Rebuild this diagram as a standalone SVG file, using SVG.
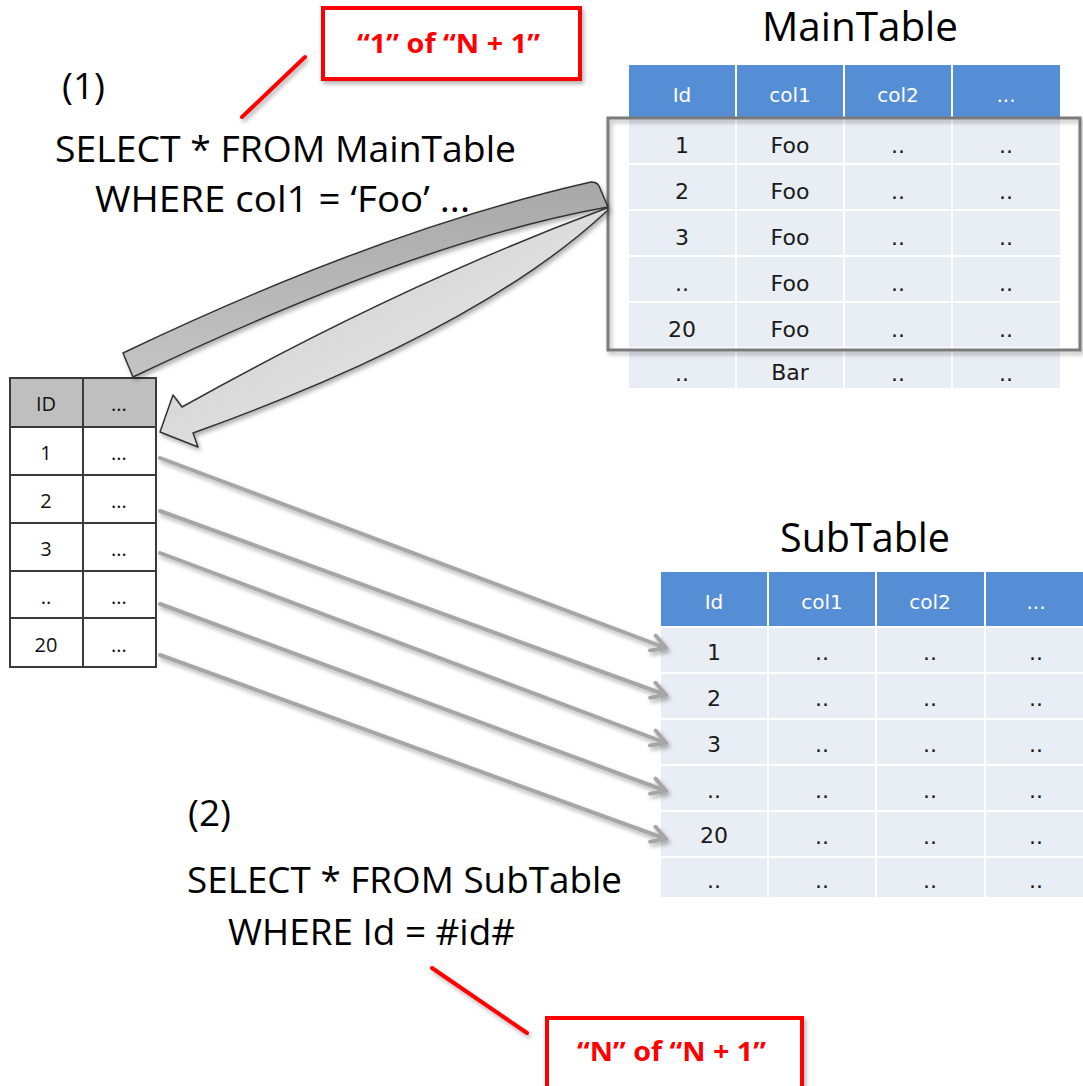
<svg xmlns="http://www.w3.org/2000/svg" width="1083" height="1086" viewBox="0 0 1083 1086">
<defs>
<style>
.big{font-family:"Open Sans","Liberation Sans",sans-serif;font-size:37px;fill:#000}
.title{font-family:"Open Sans","Liberation Sans",sans-serif;font-size:40px;fill:#000}
.call{font-family:"Open Sans","Liberation Sans",sans-serif;font-size:26px;font-weight:bold;fill:#ff0000}
.cbox{fill:#fff;stroke:#ff0000;stroke-width:4}
.cline{stroke:#ff0000;stroke-width:4;stroke-linecap:round}
.hd{fill:#558ed5}
.bd{fill:#e9edf4}
.ht{font-family:"DejaVu Sans","Liberation Sans",sans-serif;font-size:20px;fill:#fff;text-anchor:middle}
.bt{font-family:"DejaVu Sans","Liberation Sans",sans-serif;font-size:22px;fill:#1a1a1a;text-anchor:middle}
.lt{font-family:"Open Sans","Liberation Sans",sans-serif;font-size:20px;fill:#111;text-anchor:middle}
.lg{stroke:#3a3a3a;stroke-width:2;fill:none}
.arr{stroke:#a6a6a6;stroke-width:4;fill:none;stroke-linecap:round}
</style>
<filter id="sh" x="-10%" y="-10%" width="130%" height="140%">
<feDropShadow dx="2" dy="3" stdDeviation="2" flood-color="#000" flood-opacity="0.3"/>
</filter>
<linearGradient id="gUp" x1="0" y1="0" x2="0" y2="1">
<stop offset="0" stop-color="#a8a8a8"/>
<stop offset="1" stop-color="#c4c4c4"/>
</linearGradient>
<linearGradient id="gLo" x1="0" y1="0" x2="1" y2="1">
<stop offset="0" stop-color="#c4c4c4"/>
<stop offset="0.5" stop-color="#dcdcdc"/>
<stop offset="1" stop-color="#f2f2f2"/>
</linearGradient>
<marker id="ah" viewBox="0 0 20 20" markerWidth="20" markerHeight="20" refX="17" refY="10" orient="auto" markerUnits="userSpaceOnUse">
<path d="M3,2 L17,10 L3,18" stroke="#a6a6a6" stroke-width="4" fill="none" stroke-linecap="round" stroke-linejoin="round"/>
</marker>
</defs>
<rect width="1083" height="1086" fill="#fff"/>

<!-- Query 1 text -->
<g id="query1">
<text class="big" x="62" y="99" font-size="39">(1)</text>
<text class="big" x="55" y="162" textLength="461" lengthAdjust="spacingAndGlyphs">SELECT * FROM MainTable</text>
<text class="big" x="95" y="212" textLength="375" lengthAdjust="spacingAndGlyphs">WHERE col1 = ‘Foo’ ...</text>
</g>

<!-- Callout 1 -->
<g id="callout1">
<line class="cline" x1="305" y1="57" x2="242" y2="117" filter="url(#sh)"/>
<rect class="cbox" x="323" y="8" width="257" height="71" filter="url(#sh)"/>
<text class="call" x="357" y="53" textLength="183" lengthAdjust="spacingAndGlyphs">“1” of “N + 1”</text>
</g>

<!-- MainTable -->
<g id="maintable">
<text class="title" x="762" y="41" font-size="37" textLength="196" lengthAdjust="spacingAndGlyphs">MainTable</text>
<rect class="hd" x="629" y="65" width="106" height="52"/>
<rect class="hd" x="737" y="65" width="106" height="52"/>
<rect class="hd" x="845" y="65" width="106" height="52"/>
<rect class="hd" x="953" y="65" width="107" height="52"/>
<text class="ht" x="682" y="102">Id</text>
<text class="ht" x="790" y="102">col1</text>
<text class="ht" x="898" y="102">col2</text>
<text class="ht" x="1006" y="102">...</text>
<g>
<rect class="bd" x="629" y="119" width="106" height="44"/><rect class="bd" x="737" y="119" width="106" height="44"/><rect class="bd" x="845" y="119" width="106" height="44"/><rect class="bd" x="953" y="119" width="107" height="44"/>
<rect class="bd" x="629" y="165" width="106" height="44"/><rect class="bd" x="737" y="165" width="106" height="44"/><rect class="bd" x="845" y="165" width="106" height="44"/><rect class="bd" x="953" y="165" width="107" height="44"/>
<rect class="bd" x="629" y="211" width="106" height="44"/><rect class="bd" x="737" y="211" width="106" height="44"/><rect class="bd" x="845" y="211" width="106" height="44"/><rect class="bd" x="953" y="211" width="107" height="44"/>
<rect class="bd" x="629" y="257" width="106" height="44"/><rect class="bd" x="737" y="257" width="106" height="44"/><rect class="bd" x="845" y="257" width="106" height="44"/><rect class="bd" x="953" y="257" width="107" height="44"/>
<rect class="bd" x="629" y="303" width="106" height="44"/><rect class="bd" x="737" y="303" width="106" height="44"/><rect class="bd" x="845" y="303" width="106" height="44"/><rect class="bd" x="953" y="303" width="107" height="44"/>
<rect class="bd" x="629" y="349" width="106" height="39"/><rect class="bd" x="737" y="349" width="106" height="39"/><rect class="bd" x="845" y="349" width="106" height="39"/><rect class="bd" x="953" y="349" width="107" height="39"/>
</g>
<text class="bt" x="682" y="153">1</text><text class="bt" x="790" y="153">Foo</text><text class="bt" x="898" y="153">..</text><text class="bt" x="1006" y="153">..</text>
<text class="bt" x="682" y="199">2</text><text class="bt" x="790" y="199">Foo</text><text class="bt" x="898" y="199">..</text><text class="bt" x="1006" y="199">..</text>
<text class="bt" x="682" y="245">3</text><text class="bt" x="790" y="245">Foo</text><text class="bt" x="898" y="245">..</text><text class="bt" x="1006" y="245">..</text>
<text class="bt" x="682" y="291">..</text><text class="bt" x="790" y="291">Foo</text><text class="bt" x="898" y="291">..</text><text class="bt" x="1006" y="291">..</text>
<text class="bt" x="682" y="337">20</text><text class="bt" x="790" y="337">Foo</text><text class="bt" x="898" y="337">..</text><text class="bt" x="1006" y="337">..</text>
<text class="bt" x="682" y="381">..</text><text class="bt" x="790" y="380">Bar</text><text class="bt" x="898" y="381">..</text><text class="bt" x="1006" y="381">..</text>
<rect x="608" y="118" width="472" height="232" fill="none" stroke="#7a7a7a" stroke-width="3" filter="url(#sh)"/>
</g>

<!-- Result table -->
<g id="resulttable">
<rect x="10" y="378" width="146" height="49" fill="#bfbfbf"/>
<rect x="10" y="427" width="146" height="240" fill="#fff"/>
<path class="lg" d="M10,378 H156 V667 H10 Z M83,378 V667 M10,427 H156 M10,475 H156 M10,523 H156 M10,571 H156 M10,618 H156"/>
<text class="lt" x="46" y="411">ID</text><text class="lt" x="119" y="411">...</text>
<text class="lt" x="46" y="460">1</text><text class="lt" x="119" y="460">...</text>
<text class="lt" x="46" y="508">2</text><text class="lt" x="119" y="508">...</text>
<text class="lt" x="46" y="556">3</text><text class="lt" x="119" y="556">...</text>
<text class="lt" x="46" y="604">..</text><text class="lt" x="119" y="604">...</text>
<text class="lt" x="46" y="652">20</text><text class="lt" x="119" y="652">...</text>
</g>

<!-- SubTable -->
<g id="subtable">
<text class="title" x="780" y="552" textLength="170" lengthAdjust="spacingAndGlyphs">SubTable</text>
<rect class="hd" x="661" y="572" width="106" height="54"/>
<rect class="hd" x="769" y="572" width="106" height="54"/>
<rect class="hd" x="877" y="572" width="107" height="54"/>
<rect class="hd" x="986" y="572" width="97" height="54"/>
<text class="ht" x="714" y="609">Id</text>
<text class="ht" x="822" y="609">col1</text>
<text class="ht" x="930" y="609">col2</text>
<text class="ht" x="1036" y="609">...</text>
<g>
<rect class="bd" x="661" y="628" width="106" height="44"/><rect class="bd" x="769" y="628" width="106" height="44"/><rect class="bd" x="877" y="628" width="107" height="44"/><rect class="bd" x="986" y="628" width="97" height="44"/>
<rect class="bd" x="661" y="674" width="106" height="44"/><rect class="bd" x="769" y="674" width="106" height="44"/><rect class="bd" x="877" y="674" width="107" height="44"/><rect class="bd" x="986" y="674" width="97" height="44"/>
<rect class="bd" x="661" y="720" width="106" height="44"/><rect class="bd" x="769" y="720" width="106" height="44"/><rect class="bd" x="877" y="720" width="107" height="44"/><rect class="bd" x="986" y="720" width="97" height="44"/>
<rect class="bd" x="661" y="766" width="106" height="44"/><rect class="bd" x="769" y="766" width="106" height="44"/><rect class="bd" x="877" y="766" width="107" height="44"/><rect class="bd" x="986" y="766" width="97" height="44"/>
<rect class="bd" x="661" y="812" width="106" height="44"/><rect class="bd" x="769" y="812" width="106" height="44"/><rect class="bd" x="877" y="812" width="107" height="44"/><rect class="bd" x="986" y="812" width="97" height="44"/>
<rect class="bd" x="661" y="858" width="106" height="39"/><rect class="bd" x="769" y="858" width="106" height="39"/><rect class="bd" x="877" y="858" width="107" height="39"/><rect class="bd" x="986" y="858" width="97" height="39"/>
</g>
<text class="bt" x="714" y="660">1</text><text class="bt" x="822" y="660">..</text><text class="bt" x="930" y="660">..</text><text class="bt" x="1036" y="660">..</text>
<text class="bt" x="714" y="706">2</text><text class="bt" x="822" y="706">..</text><text class="bt" x="930" y="706">..</text><text class="bt" x="1036" y="706">..</text>
<text class="bt" x="714" y="752">3</text><text class="bt" x="822" y="752">..</text><text class="bt" x="930" y="752">..</text><text class="bt" x="1036" y="752">..</text>
<text class="bt" x="714" y="798">..</text><text class="bt" x="822" y="798">..</text><text class="bt" x="930" y="798">..</text><text class="bt" x="1036" y="798">..</text>
<text class="bt" x="714" y="843">20</text><text class="bt" x="822" y="844">..</text><text class="bt" x="930" y="844">..</text><text class="bt" x="1036" y="844">..</text>
<text class="bt" x="714" y="888">..</text><text class="bt" x="822" y="888">..</text><text class="bt" x="930" y="888">..</text><text class="bt" x="1036" y="888">..</text>
</g>

<!-- Query 2 text -->
<g id="query2">
<text class="big" x="188" y="826" font-size="39">(2)</text>
<text class="big" x="187" y="893" textLength="435" lengthAdjust="spacingAndGlyphs">SELECT * FROM SubTable</text>
<text class="big" x="228" y="945" textLength="287" lengthAdjust="spacingAndGlyphs">WHERE Id = #id#</text>
</g>

<!-- Callout 2 -->
<g id="callout2">
<line class="cline" x1="432" y1="968" x2="527" y2="1033" filter="url(#sh)"/>
<rect class="cbox" x="547" y="1018" width="255" height="70" filter="url(#sh)"/>
<text class="call" x="577" y="1061" textLength="189" lengthAdjust="spacingAndGlyphs">“N” of “N + 1”</text>
</g>

<!-- Connectors -->
<g id="connectors">
<g filter="url(#sh)">
<path d="M607,208 Q400,285 182,407 L173,395 L160,432 L198,447 L193,433 Q480,330 608,210 Z" fill="url(#gLo)" stroke="#333" stroke-width="1.5" stroke-linejoin="round"/>
<path d="M123,353 Q380,230 591,182 Q597,182 599,186 L608,207 Q420,240 133,377 Z" fill="url(#gUp)" stroke="#333" stroke-width="1.5" stroke-linejoin="round"/>
</g>
<g filter="url(#sh)">
<line class="arr" x1="160" y1="458" x2="666" y2="648" marker-end="url(#ah)"/>
<line class="arr" x1="160" y1="511" x2="666" y2="695" marker-end="url(#ah)"/>
<line class="arr" x1="160" y1="553" x2="666" y2="743" marker-end="url(#ah)"/>
<line class="arr" x1="160" y1="604" x2="666" y2="791" marker-end="url(#ah)"/>
<line class="arr" x1="160" y1="655" x2="666" y2="839" marker-end="url(#ah)"/>
</g>
</g>
</svg>
